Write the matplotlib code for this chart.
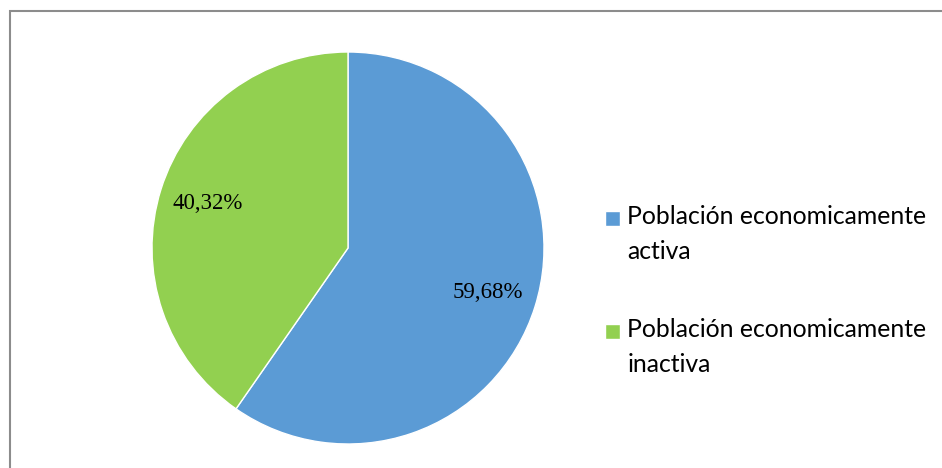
import matplotlib
matplotlib.use("Agg")
import matplotlib.pyplot as plt
from matplotlib.patches import Rectangle
from matplotlib.legend_handler import HandlerPatch

labels = ["Población economicamente\nactiva", "Población economicamente\ninactiva"]
values = [59.68, 40.32]
colors = ["#5B9BD5", "#92D050"]

fig = plt.figure(figsize=(9.42, 4.68), dpi=100)
W, H = 942, 468

# pie axes: center ~(348, 248) px, radius ~196 px
cx, cy, r = 348, 248, 196
ax = fig.add_axes([(cx - r) / W, (H - cy - r) / H, 2 * r / W, 2 * r / H])

wedges, _, autotexts = ax.pie(
    values, colors=colors, startangle=90, counterclock=False,
    autopct=lambda p: f"{p:.2f}%".replace(".", ","), pctdistance=0.75,
    wedgeprops=dict(edgecolor="white", linewidth=1),
    textprops=dict(family="Liberation Serif", fontsize=16.5, color="black"),
)
ax.set_xlim(-1, 1)
ax.set_ylim(-1, 1)
ax.set_aspect("equal")


# square marker aligned with the first line of the two-line label
def top_square(legend, orig_handle, xdescent, ydescent, width, height, fontsize):
    side = width
    y = -ydescent + height / 2 - side / 2 + 0.67 * fontsize
    return Rectangle((-xdescent, y), side, side)


leg = fig.legend(
    wedges, labels, loc="upper left", bbox_to_anchor=(605 / W, 1 - 205 / H),
    frameon=False, prop=dict(family="Lato", size=17.8),
    handlelength=0.6, handleheight=0.6, handletextpad=0.3,
    labelspacing=2.2, borderpad=0, borderaxespad=0,
    handler_map={w: HandlerPatch(patch_func=top_square) for w in wedges},
)
for t in leg.get_texts():
    t.set_linespacing(1.65)

# outer frame (clipped at right and bottom like the source)
fig.add_artist(Rectangle((9.5 / W, -0.05), 1.0, (H - 11) / H + 0.05,
                         transform=fig.transFigure, fill=False,
                         edgecolor="#8c8c8c", linewidth=1.5))

fig.savefig("out.png", dpi=100)
